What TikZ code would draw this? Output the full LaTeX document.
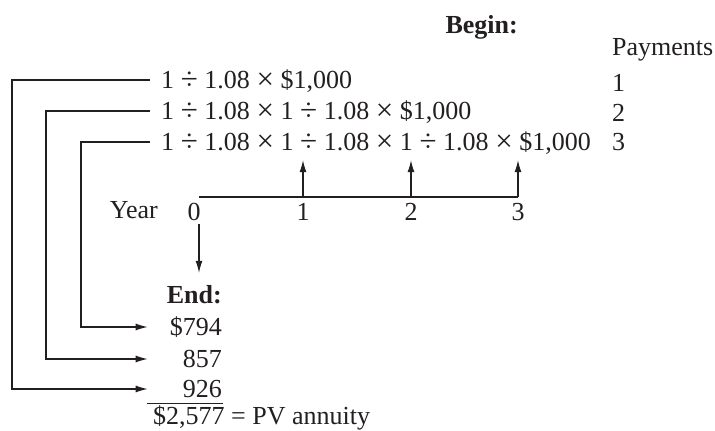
\documentclass[tikz,border=0pt]{standalone}
\usepackage{fontspec}
\setmainfont{Liberation Serif}
\definecolor{ink}{RGB}{35,31,32}
\usetikzlibrary{arrows.meta,positioning}
\newcommand{\opdv}{\raisebox{-1pt}{\fontsize{31}{30}\selectfont ÷}}
\newcommand{\optm}{\raisebox{-1pt}{\fontsize{31}{30}\selectfont ×}}

\begin{document}
\begin{tikzpicture}[x=1pt, y=-1pt,
    every node/.style={font=\fontsize{26}{30}\selectfont, text=ink, inner sep=0pt},
    val/.style={text height=16pt, text depth=0pt},
    calc row/.style={val, anchor=base west, execute at begin node={\spaceskip=6.6pt\relax}},
    head/.style={font=\fontsize{26}{30}\selectfont\bfseries},
    link/.style={draw=ink, line width=1.1pt},
    arr/.style={link, -{Latex[length=12pt,width=7pt]}}
  ]
  \useasboundingbox (0,0) rectangle (715,431);

  \node[head, anchor=base east] (begin) at (518,33) {Begin:};
  \node[anchor=base west] (pay) at (612,55) {Payments};

  \node[calc row] (r1) at (161,88)  {1 \opdv{} 1.08 \optm{} \$1,000};
  \node[calc row] (r2) at (161,119) {1 \opdv{} 1.08 \optm{} 1 \opdv{} 1.08 \optm{} \$1,000};
  \node[calc row] (r3) at (161,150) {1 \opdv{} 1.08 \optm{} 1 \opdv{} 1.08 \optm{} 1 \opdv{} 1.08 \optm{} \$1,000};
  \node[val, anchor=base west] (p1) at (612,91)  {1};
  \node[val, anchor=base west] (p2) at (612,121) {2};
  \node[val, anchor=base west] (p3) at (612,150) {3};

  \coordinate (y0) at (199,197);
  \coordinate (y1) at (303,197);
  \coordinate (y2) at (411,197);
  \coordinate (y3) at (518,197);
  \node[anchor=base east] (year) at (158,218) {Year};
  \node[val, anchor=base] (t0) at (194,220) {0};
  \node[val, anchor=base] (t1) at (303,220) {1};
  \node[val, anchor=base] (t2) at (411,220) {2};
  \node[val, anchor=base] (t3) at (518,220) {3};
  \draw[link] (y0) -- (y3);
  \foreach \i in {1,2,3}
    \draw[arr, shorten >=10pt] (y\i) -- (y\i |- r3.south);

  \node[head, val, anchor=base east] (end) at (222,303) {End:};
  \node[val, anchor=base east] (v1) at (222,335) {\$794};
  \node[val, anchor=base east] (v2) at (222,367) {857};
  \node[val, anchor=base east] (v3) at (222,397) {926};
  \draw[link] ([xshift=1pt, yshift=-6pt]v3.south east) -- ++(-76,0);
  \node[anchor=base west] (total) at (153,424) {\$2,577 = PV annuity};
  \draw[arr, shorten <=4pt, shorten >=14pt] (y0 |- t0.south) -- (y0 |- end.north);

  \draw[arr] ([xshift=-11pt]r1.west) -- ++(-138,0) |- ([xshift=-35pt]v3.west);
  \draw[arr] ([xshift=-11pt]r2.west) -- ++(-104,0) |- ([xshift=-35pt]v2.west);
  \draw[arr] ([xshift=-11pt]r3.west) -- ++(-69,0) |- ([xshift=-22pt]v1.west);
\end{tikzpicture}
\end{document}
